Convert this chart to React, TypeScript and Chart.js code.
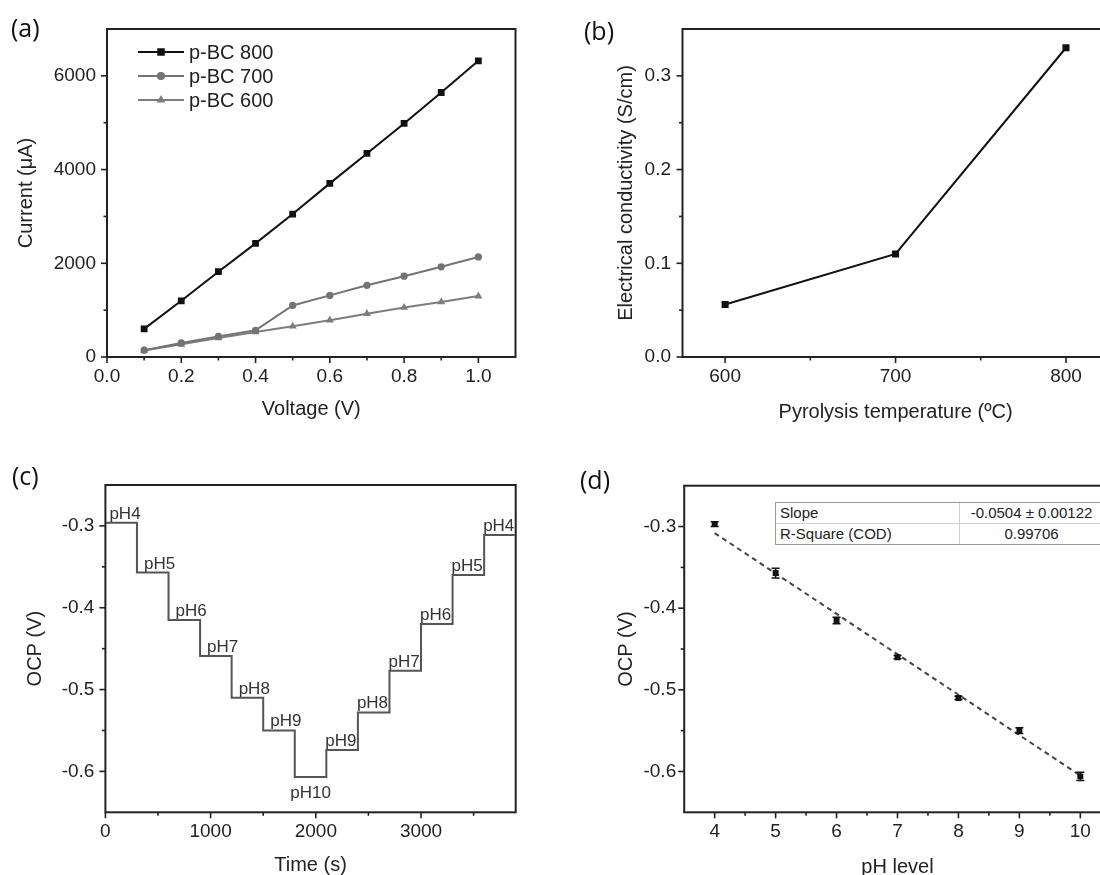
import React, { useEffect, useRef } from 'react';
import { Chart, registerables } from 'chart.js';

Chart.register(...registerables);

const FONT = '"Liberation Sans", Arial, sans-serif';
const INK = '#222';

// ---------- Panel (a): I-V curves ----------
const voltageA = [0.1, 0.2, 0.3, 0.4, 0.5, 0.6, 0.7, 0.8, 0.9, 1.0];
const current800 = [600, 1200, 1820, 2425, 3050, 3705, 4345, 4985, 5645, 6320];
const current700 = [145, 300, 440, 570, 1100, 1315, 1530, 1725, 1925, 2135];
const current600 = [140, 270, 405, 535, 655, 785, 925, 1055, 1175, 1300];
const seriesNamesA = ['p-BC 800', 'p-BC 700', 'p-BC 600'];
const xTicksA = [0, 0.2, 0.4, 0.6, 0.8, 1.0];
const xMinorA = [0.1, 0.3, 0.5, 0.7, 0.9];
const yTicksA = [0, 2000, 4000, 6000];
const yMinorA = [1000, 3000, 5000];

// ---------- Panel (b): conductivity ----------
const tempsB = [600, 700, 800];
const condB = [0.056, 0.11, 0.33];
const xTicksB = [600, 700, 800];
const xMinorB = [650, 750];
const yTicksB = [0, 0.1, 0.2, 0.3];
const yMinorB = [0.05, 0.15, 0.25];

// ---------- Panel (c): OCP steps ----------
const stepStartC = [0, 300, 600, 900, 1200, 1500, 1800, 2100, 2400, 2700, 3000, 3300, 3600];
const stepLevelC = [-0.296, -0.357, -0.415, -0.459, -0.51, -0.55, -0.607, -0.574, -0.528, -0.477, -0.42, -0.36, -0.311];
const stepLabelC = ['pH4', 'pH5', 'pH6', 'pH7', 'pH8', 'pH9', 'pH10', 'pH9', 'pH8', 'pH7', 'pH6', 'pH5', 'pH4'];
const endTimeC = 3890;
const xTicksC = [0, 1000, 2000, 3000];
const xMinorC = [500, 1500, 2500, 3500];
const yTicksOCP = [-0.6, -0.5, -0.4, -0.3];
const yMinorOCP = [-0.55, -0.45, -0.35];

// ---------- Panel (d): calibration ----------
const phD = [4, 5, 6, 7, 8, 9, 10];
const ocpD = [-0.297, -0.357, -0.415, -0.46, -0.51, -0.55, -0.606];
const errD = [0.003, 0.006, 0.004, 0.002, 0.002, 0.0035, 0.005];
const fitXD = [4, 10];
const fitYD = [-0.308, -0.605];
const xTicksD = [4, 5, 6, 7, 8, 9, 10];
const xMinorD = [4.5, 5.5, 6.5, 7.5, 8.5, 9.5];
const tableRows = [
  ['Slope', '-0.0504 ± 0.00122'],
  ['R-Square (COD)', '0.99706'],
];

// ---------- helpers ----------
function drawMarker(ctx: CanvasRenderingContext2D, style: string, x: number, y: number, r: number, color: string) {
  ctx.fillStyle = color;
  ctx.beginPath();
  if (style === 'rect') {
    const s = r / Math.SQRT2;
    ctx.rect(x - s, y - s, 2 * s, 2 * s);
  } else if (style === 'triangle') {
    for (let k = 0; k < 3; k++) {
      const ang = -Math.PI / 2 + (k * 2 * Math.PI) / 3;
      const px = x + Math.cos(ang) * r;
      const py = y + Math.sin(ang) * r;
      if (k === 0) ctx.moveTo(px, py);
      else ctx.lineTo(px, py);
    }
    ctx.closePath();
  } else {
    ctx.arc(x, y, r, 0, Math.PI * 2);
  }
  ctx.fill();
}

const framePlugin = {
  id: 'frame',
  afterDraw(chart: any, _args: any, opts: any) {
    const { ctx, chartArea: a, scales } = chart;
    const sx = scales.x;
    const sy = scales.y;
    ctx.save();
    ctx.strokeStyle = INK;
    ctx.lineWidth = 2;
    ctx.strokeRect(a.left, a.top, a.right - a.left, a.bottom - a.top);
    ctx.lineWidth = 1.6;
    const xt = (vals: number[], len: number) => {
      for (const v of vals) {
        const p = sx.getPixelForValue(v);
        ctx.beginPath();
        ctx.moveTo(p, a.bottom);
        ctx.lineTo(p, a.bottom + len);
        ctx.stroke();
      }
    };
    const yt = (vals: number[], len: number) => {
      for (const v of vals) {
        const p = sy.getPixelForValue(v);
        ctx.beginPath();
        ctx.moveTo(a.left, p);
        ctx.lineTo(a.left - len, p);
        ctx.stroke();
      }
    };
    xt(opts.xMajor || [], 6);
    xt(opts.xMinor || [], 3.5);
    yt(opts.yMajor || [], 6);
    yt(opts.yMinor || [], 3.5);
    ctx.restore();
  },
};

const insetLegendPlugin = {
  id: 'insetLegend',
  afterDatasetsDraw(chart: any, _args: any, opts: any) {
    const { ctx } = chart;
    ctx.save();
    chart.data.datasets.forEach((ds: any, i: number) => {
      const y = opts.y0 + i * opts.dy;
      ctx.strokeStyle = ds.borderColor;
      ctx.lineWidth = 2;
      ctx.beginPath();
      ctx.moveTo(opts.x0, y);
      ctx.lineTo(opts.x1, y);
      ctx.stroke();
      drawMarker(ctx, ds.pointStyle, (opts.x0 + opts.x1) / 2, y, ds.pointRadius + 0.5, ds.borderColor);
      ctx.fillStyle = INK;
      ctx.font = `20px ${FONT}`;
      ctx.textAlign = 'left';
      ctx.textBaseline = 'middle';
      ctx.fillText(ds.label, opts.tx, y + 1);
    });
    ctx.restore();
  },
};

const stepLabelPlugin = {
  id: 'stepLabels',
  afterDatasetsDraw(chart: any) {
    const { ctx, scales } = chart;
    const sx = scales.x;
    const sy = scales.y;
    const lowest = stepLevelC.indexOf(Math.min(...stepLevelC));
    ctx.save();
    ctx.font = `17px ${FONT}`;
    ctx.fillStyle = '#333';
    ctx.textBaseline = 'alphabetic';
    stepLabelC.forEach((txt, i) => {
      const xs = sx.getPixelForValue(stepStartC[i]);
      const xe = sx.getPixelForValue(i + 1 < stepStartC.length ? stepStartC[i + 1] : endTimeC);
      const yl = sy.getPixelForValue(stepLevelC[i]);
      if (i === lowest) {
        ctx.textAlign = 'center';
        ctx.fillText(txt, (xs + xe) / 2, yl + 21);
      } else if (i < lowest) {
        ctx.textAlign = 'left';
        ctx.fillText(txt, xs + (i === 0 ? 4 : 7), yl - 4);
      } else {
        ctx.textAlign = 'left';
        ctx.fillText(txt, xs - 1, yl - 4);
      }
    });
    ctx.restore();
  },
};

const errorBarPlugin = {
  id: 'errorBars',
  afterDatasetsDraw(chart: any) {
    const { ctx, scales } = chart;
    const sx = scales.x;
    const sy = scales.y;
    ctx.save();
    ctx.strokeStyle = '#111';
    ctx.lineWidth = 1.5;
    phD.forEach((p, i) => {
      const px = sx.getPixelForValue(p);
      const top = sy.getPixelForValue(ocpD[i] + errD[i]);
      const bot = sy.getPixelForValue(ocpD[i] - errD[i]);
      ctx.beginPath();
      ctx.moveTo(px, top);
      ctx.lineTo(px, bot);
      ctx.moveTo(px - 4, top);
      ctx.lineTo(px + 4, top);
      ctx.moveTo(px - 4, bot);
      ctx.lineTo(px + 4, bot);
      ctx.stroke();
    });
    ctx.restore();
  },
};

type AxisOpt = {
  min: number;
  max: number;
  ticks: number[];
  fmt: (v: number) => string;
  title: string;
  titlePad: number;
  tickPad: number;
  size: number;
};

function axisX(o: AxisOpt) {
  return {
    type: 'linear',
    position: 'bottom',
    min: o.min,
    max: o.max,
    grid: { display: false, drawTicks: false },
    border: { display: false },
    ticks: {
      padding: o.tickPad,
      color: INK,
      font: { family: FONT, size: 19 },
      maxRotation: 0,
      autoSkip: false,
      callback: (v: any) => o.fmt(Number(v)),
    },
    afterBuildTicks: (s: any) => {
      s.ticks = o.ticks.map((v) => ({ value: v }));
    },
    afterFit: (s: any) => {
      s.height = o.size;
    },
    title: {
      display: true,
      text: o.title,
      color: INK,
      font: { family: FONT, size: 20 },
      padding: { top: 0, bottom: o.titlePad },
    },
  };
}

function axisY(o: AxisOpt) {
  return {
    type: 'linear',
    position: 'left',
    min: o.min,
    max: o.max,
    grid: { display: false, drawTicks: false },
    border: { display: false },
    ticks: {
      padding: o.tickPad,
      color: INK,
      font: { family: FONT, size: 19 },
      autoSkip: false,
      callback: (v: any) => o.fmt(Number(v)),
    },
    afterBuildTicks: (s: any) => {
      s.ticks = o.ticks.map((v) => ({ value: v }));
    },
    afterFit: (s: any) => {
      s.width = o.size;
    },
    title: {
      display: true,
      text: o.title,
      color: INK,
      font: { family: FONT, size: 20 },
      padding: { top: o.titlePad, bottom: 0 },
    },
  };
}

const baseOptions = (padTop: number, padRight: number) => ({
  responsive: false,
  animation: false,
  events: [],
  layout: { padding: { left: 0, top: padTop, right: padRight, bottom: 0 } },
});

const fmt1 = (v: number) => v.toFixed(1);
const fmt0 = (v: number) => String(Math.round(v));

type PanelSpec = { left: number; top: number; width: number; height: number; build: () => any };

const panels: PanelSpec[] = [
  {
    left: 0,
    top: 0,
    width: 545,
    height: 435,
    build: () => ({
      type: 'line',
      data: {
        datasets: [
          { label: seriesNamesA[0], data: voltageA.map((v, i) => ({ x: v, y: current800[i] })), color: '#111' },
          { label: seriesNamesA[1], data: voltageA.map((v, i) => ({ x: v, y: current700[i] })), color: '#737373' },
          { label: seriesNamesA[2], data: voltageA.map((v, i) => ({ x: v, y: current600[i] })), color: '#7d7d7d' },
        ].map((d, i) => ({
          label: d.label,
          data: d.data,
          borderColor: d.color,
          backgroundColor: d.color,
          borderWidth: 2,
          pointStyle: ['rect', 'circle', 'triangle'][i],
          pointRadius: [4.8, 3.6, 4.6][i],
          pointBorderWidth: 0,
          tension: 0,
        })),
      },
      options: {
        ...baseOptions(29, 29.5),
        scales: {
          x: axisX({ min: 0, max: 1.1, ticks: xTicksA, fmt: fmt1, title: 'Voltage (V)', titlePad: 14, tickPad: 8, size: 78 }),
          y: axisY({ min: 0, max: 7000, ticks: yTicksA, fmt: fmt0, title: 'Current (μA)', titlePad: 14, tickPad: 11, size: 107 }),
        },
        plugins: {
          legend: { display: false },
          tooltip: { enabled: false },
          frame: { xMajor: xTicksA, xMinor: xMinorA, yMajor: yTicksA, yMinor: yMinorA },
          insetLegend: { x0: 138, x1: 184, tx: 189, y0: 52, dy: 24 },
        },
      },
      plugins: [framePlugin, insetLegendPlugin],
    }),
  },
  {
    left: 550,
    top: 0,
    width: 600,
    height: 435,
    build: () => ({
      type: 'line',
      data: {
        datasets: [
          {
            label: 'conductivity',
            data: tempsB.map((t, i) => ({ x: t, y: condB[i] })),
            borderColor: '#111',
            backgroundColor: '#111',
            borderWidth: 2,
            pointStyle: 'rect',
            pointRadius: 5,
            pointBorderWidth: 0,
          },
        ],
      },
      options: {
        ...baseOptions(29, 41.4),
        scales: {
          x: axisX({ min: 575, max: 825, ticks: xTicksB, fmt: fmt0, title: 'Pyrolysis temperature (ºC)', titlePad: 11, tickPad: 8, size: 78 }),
          y: axisY({ min: 0, max: 0.35, ticks: yTicksB, fmt: fmt1, title: 'Electrical conductivity (S/cm)', titlePad: 64, tickPad: 11.5, size: 132.5 }),
        },
        plugins: {
          legend: { display: false },
          tooltip: { enabled: false },
          frame: { xMajor: xTicksB, xMinor: xMinorB, yMajor: yTicksB, yMinor: yMinorB },
        },
      },
      plugins: [framePlugin],
    }),
  },
  {
    left: 0,
    top: 440,
    width: 545,
    height: 445,
    build: () => ({
      type: 'line',
      data: {
        datasets: [
          {
            label: 'OCP',
            data: [
              ...stepStartC.map((t, i) => ({ x: t, y: stepLevelC[i] })),
              { x: endTimeC, y: stepLevelC[stepLevelC.length - 1] },
            ],
            borderColor: '#555',
            borderWidth: 2,
            pointRadius: 0,
            stepped: 'before',
          },
        ],
      },
      options: {
        ...baseOptions(45, 29.3),
        scales: {
          x: axisX({ min: 0, max: 3900, ticks: xTicksC, fmt: fmt0, title: 'Time (s)', titlePad: 8, tickPad: 8, size: 72.7 }),
          y: axisY({ min: -0.65, max: -0.25, ticks: yTicksOCP, fmt: fmt1, title: 'OCP (V)', titlePad: 23, tickPad: 11, size: 105.4 }),
        },
        plugins: {
          legend: { display: false },
          tooltip: { enabled: false },
          frame: { xMajor: xTicksC, xMinor: xMinorC, yMajor: yTicksOCP, yMinor: yMinorOCP },
        },
      },
      plugins: [framePlugin, stepLabelPlugin],
    }),
  },
  {
    left: 550,
    top: 440,
    width: 600,
    height: 445,
    build: () => ({
      type: 'line',
      data: {
        datasets: [
          {
            label: 'OCP',
            data: phD.map((p, i) => ({ x: p, y: ocpD[i] })),
            showLine: false,
            borderColor: '#111',
            backgroundColor: '#111',
            pointStyle: 'rect',
            pointRadius: 4.2,
            pointBorderWidth: 0,
          },
          {
            label: 'fit',
            data: fitXD.map((x, i) => ({ x, y: fitYD[i] })),
            borderColor: '#444',
            borderWidth: 2,
            borderDash: [5, 4],
            pointRadius: 0,
          },
        ],
      },
      options: {
        ...baseOptions(45.7, 39.2),
        scales: {
          x: axisX({ min: 3.5, max: 10.5, ticks: xTicksD, fmt: fmt0, title: 'pH level', titlePad: 6, tickPad: 8, size: 72.7 }),
          y: axisY({ min: -0.65, max: -0.25, ticks: yTicksOCP, fmt: fmt1, title: 'OCP (V)', titlePad: 64, tickPad: 8, size: 134.2 }),
        },
        plugins: {
          legend: { display: false },
          tooltip: { enabled: false },
          frame: { xMajor: xTicksD, xMinor: xMinorD, yMajor: yTicksOCP, yMinor: yMinorOCP },
        },
      },
      plugins: [framePlugin, errorBarPlugin],
    }),
  },
];

function ChartPanel({ spec }: { spec: PanelSpec }) {
  const ref = useRef<HTMLCanvasElement>(null);
  useEffect(() => {
    if (!ref.current) return;
    const chart = new Chart(ref.current, spec.build());
    return () => chart.destroy();
  }, [spec]);
  return (
    <canvas
      ref={ref}
      width={spec.width}
      height={spec.height}
      style={{ position: 'absolute', left: spec.left, top: spec.top, width: spec.width, height: spec.height }}
    />
  );
}

const panelLetters = [
  { text: '(a)', left: 11, top: 12 },
  { text: '(b)', left: 584, top: 15 },
  { text: '(c)', left: 12, top: 460 },
  { text: '(d)', left: 580, top: 464 },
];

export default function App() {
  return (
    <div
      style={{
        position: 'absolute',
        left: 0,
        top: 0,
        width: 1100,
        height: 875,
        overflow: 'hidden',
        background: '#fff',
      }}
    >
      {panels.map((p, i) => (
        <ChartPanel key={i} spec={p} />
      ))}
      {panelLetters.map((l) => (
        <div
          key={l.text}
          style={{
            position: 'absolute',
            left: l.left,
            top: l.top,
            font: `25px "Open Sans", "Noto Sans", sans-serif`,
            lineHeight: '30px',
            color: '#111',
          }}
        >
          {l.text}
        </div>
      ))}
      <div
        style={{
          position: 'absolute',
          left: 775,
          top: 502,
          width: 327,
          border: '1px solid #999',
          background: '#fff',
          font: `15px ${FONT}`,
          color: '#222',
        }}
      >
        {tableRows.map((r, i) => (
          <div
            key={i}
            style={{
              display: 'flex',
              height: 20,
              lineHeight: '20px',
              borderTop: i ? '1px solid #d0d0d0' : 'none',
            }}
          >
            <div style={{ width: 184, paddingLeft: 4, boxSizing: 'border-box', borderRight: '1px solid #d0d0d0' }}>{r[0]}</div>
            <div style={{ flex: 1, textAlign: 'center' }}>{r[1]}</div>
          </div>
        ))}
      </div>
    </div>
  );
}
